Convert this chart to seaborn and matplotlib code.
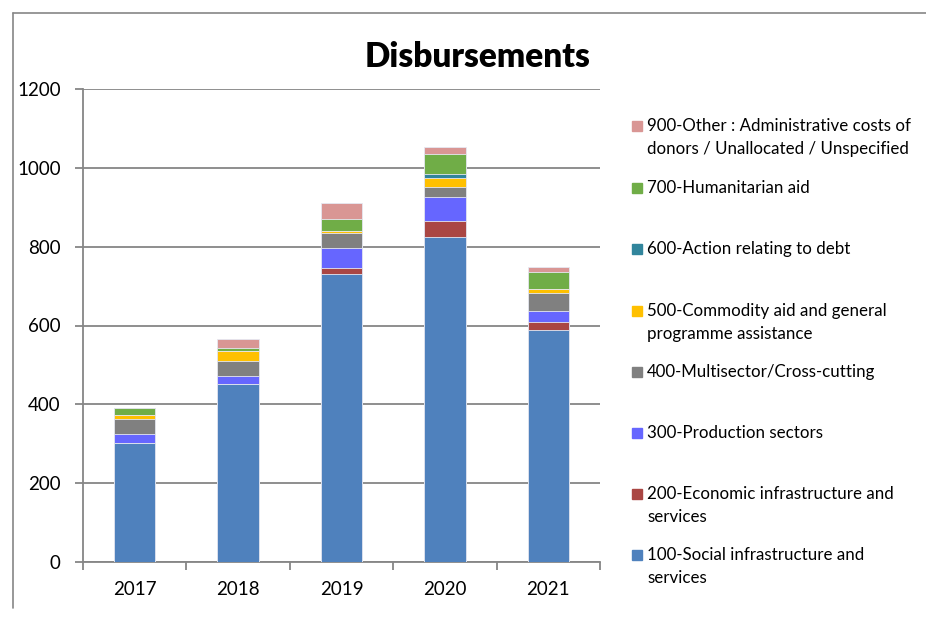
import numpy as np
import pandas as pd
import matplotlib
matplotlib.use("Agg")
import matplotlib.pyplot as plt
from matplotlib.patches import Rectangle
from matplotlib.lines import Line2D
import seaborn as sns

years = ["2017", "2018", "2019", "2020", "2021"]

# sector values per year
social = [301, 451, 730, 825, 589]
economic = [0, 0, 17, 39, 19]
production = [24, 21, 49, 61, 30]
multisector = [38, 37, 39, 26, 45]
commodity = [10, 26, 5, 24, 10]
debt = [0, 0, 0, 10, 0]
humanitarian = [17, 9, 31, 51, 43]
other = [0, 21, 39, 16, 13]

labels = [
    "100-Social infrastructure and\nservices",
    "200-Economic infrastructure and\nservices",
    "300-Production sectors",
    "400-Multisector/Cross-cutting",
    "500-Commodity aid and general\nprogramme assistance",
    "600-Action relating to debt",
    "700-Humanitarian aid",
    "900-Other : Administrative costs of\ndonors / Unallocated / Unspecified",
]
colors = ["#4F81BD", "#AA4643", "#6666FF", "#808080",
          "#FFC000", "#31859C", "#70AD47", "#D99694"]

series = [social, economic, production, multisector,
          commodity, debt, humanitarian, other]

sns.set_style("white")
plt.rcParams["font.family"] = ["Lato", "DejaVu Sans"]
plt.rcParams["text.color"] = "black"
plt.rcParams["xtick.labelcolor"] = "black"
plt.rcParams["ytick.labelcolor"] = "black"

W, H = 926, 618
fig = plt.figure(figsize=(W / 100, H / 100), dpi=100)
ax = fig.add_axes([83 / W, 1 - 562 / H, (600 - 83) / W, (562 - 89) / H])

cum = np.cumsum(np.array(series), axis=0)
# draw tallest stack first so each lower segment sits on top of it
for i in range(len(series) - 1, -1, -1):
    df = pd.DataFrame({"year": years, "value": cum[i]})
    sns.barplot(data=df, x="year", y="value", color=colors[i], width=0.4,
                saturation=1, errorbar=None, edgecolor="#e6e8f2",
                linewidth=0.6, ax=ax, zorder=3)

ax.set_ylim(0, 1200)
ax.set_yticks(range(0, 1201, 200))
ax.set_xlim(-0.5, 4.5)
ax.set_xlabel("")
ax.set_ylabel("")
ax.yaxis.grid(True, color="#868686", linewidth=1.3, zorder=0)
ax.set_axisbelow(True)
for s in ["top", "right"]:
    ax.spines[s].set_visible(False)
for s in ["left", "bottom"]:
    ax.spines[s].set_color("#868686")
    ax.spines[s].set_linewidth(1.3)

ax.tick_params(axis="y", length=6, color="#868686", width=1.3,
               labelsize=13.5, pad=10, left=True, labelcolor="black")
ax.set_xticks(range(5))
ax.set_xticklabels(years)
ax.tick_params(axis="x", length=0, labelsize=13.5, pad=14, labelcolor="black")
# minor ticks at category boundaries
ax.set_xticks(np.arange(-0.5, 4.6, 1), minor=True)
ax.tick_params(axis="x", which="minor", length=6, color="#868686",
               width=1.3, bottom=True)

fig.text(478 / W, 1 - 57 / H, "Disbursements", ha="center", va="center",
         fontsize=24, fontweight="heavy", color="black")

# chart frame lines
fig.add_artist(Line2D([13 / W, 1], [1 - 13 / H, 1 - 13 / H],
                      color="#868686", linewidth=1.2))
fig.add_artist(Line2D([13 / W, 13 / W], [1 - 13 / H, 1 - 608 / H],
                      color="#868686", linewidth=1.2))

# legend, top entry is the last series
ys = [555, 494, 433, 372, 311, 249, 188, 126]
for lab, col, yc in zip(labels, colors, ys):
    fig.add_artist(Rectangle((632 / W, 1 - (yc + 5) / H), 10 / W, 10 / H,
                             transform=fig.transFigure, color=col))
    for j, line in enumerate(lab.split("\n")):
        fig.text(647 / W, 1 - (yc + 23 * j) / H, line, ha="left",
                 va="center", fontsize=12.2, color="black")

fig.savefig("out.png", dpi=100)
